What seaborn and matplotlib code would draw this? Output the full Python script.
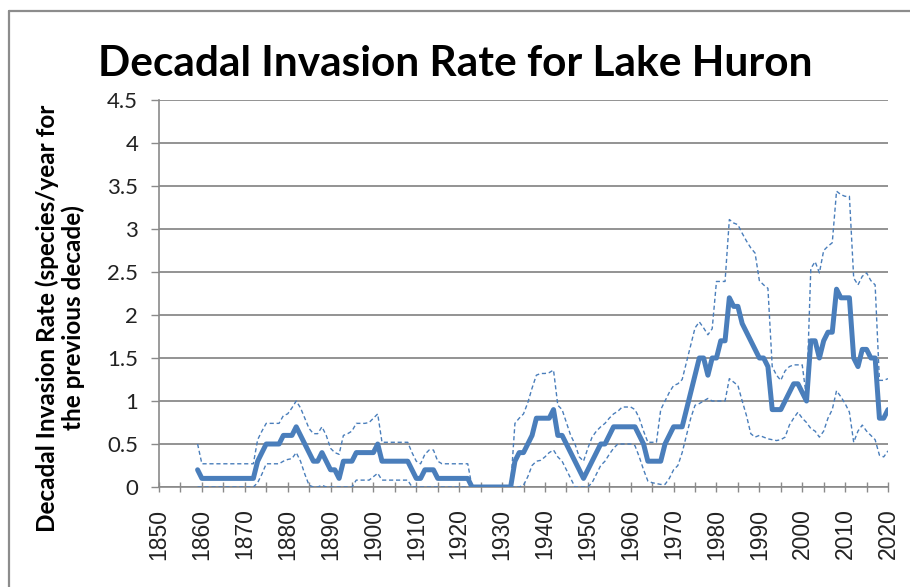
import numpy as np
import pandas as pd
import matplotlib
matplotlib.use("Agg")
import matplotlib.pyplot as plt
from matplotlib.lines import Line2D
import seaborn as sns

# Annual series, 1859-2020
years = list(range(1859, 2021))

rate = (
    [0.2] + [0.1] * 13 +                                   # 1859-1872
    [0.3, 0.4, 0.5, 0.5, 0.5, 0.5, 0.6, 0.6, 0.6, 0.7,     # 1873-1882
     0.6, 0.5, 0.4, 0.3, 0.3, 0.4, 0.3, 0.2, 0.2, 0.1,     # 1883-1892
     0.3, 0.3, 0.3, 0.4, 0.4, 0.4, 0.4, 0.4, 0.5] +        # 1893-1901
    [0.3] * 7 +                                            # 1902-1908
    [0.2, 0.1, 0.1, 0.2, 0.2, 0.2] +                       # 1909-1914
    [0.1] * 8 +                                            # 1915-1922
    [0.0] * 10 +                                           # 1923-1932
    [0.3, 0.4, 0.4, 0.5, 0.6, 0.8, 0.8, 0.8, 0.8, 0.9,     # 1933-1942
     0.6, 0.6, 0.5, 0.4, 0.3, 0.2, 0.1, 0.2, 0.3, 0.4,     # 1943-1952
     0.5, 0.5, 0.6, 0.7, 0.7, 0.7, 0.7, 0.7, 0.7, 0.6,     # 1953-1962
     0.5, 0.3, 0.3, 0.3, 0.3, 0.5, 0.6, 0.7, 0.7, 0.7,     # 1963-1972
     0.9, 1.1, 1.3, 1.5, 1.5, 1.3, 1.5, 1.5, 1.7, 1.7,     # 1973-1982
     2.2, 2.1, 2.1, 1.9, 1.8, 1.7, 1.6, 1.5, 1.5, 1.4,     # 1983-1992
     0.9, 0.9, 0.9, 1.0, 1.1, 1.2, 1.2, 1.1, 1.0, 1.7,     # 1993-2002
     1.7, 1.5, 1.7, 1.8, 1.8, 2.3, 2.2, 2.2, 2.2, 1.5,     # 2003-2012
     1.4, 1.6, 1.6, 1.5, 1.5, 0.8, 0.8, 0.9]               # 2013-2020
)

upper = (
    [0.5] + [0.27] * 13 +
    [0.55, 0.65, 0.74, 0.74, 0.74, 0.74, 0.83, 0.85, 0.92, 1.0,
     0.92, 0.8, 0.68, 0.62, 0.62, 0.7, 0.6, 0.45, 0.4, 0.38,
     0.6, 0.62, 0.65, 0.74, 0.74, 0.74, 0.75, 0.8, 0.85] +
    [0.52] * 7 +
    [0.4, 0.3, 0.27, 0.38, 0.43, 0.43] +
    [0.3] + [0.27] * 7 +
    [0.0] * 10 +
    [0.74, 0.8, 0.85, 0.98, 1.15, 1.3, 1.32, 1.32, 1.33, 1.36,
     0.95, 0.9, 0.75, 0.6, 0.5, 0.35, 0.3, 0.45, 0.58, 0.65,
     0.7, 0.74, 0.8, 0.85, 0.88, 0.93, 0.93, 0.93, 0.9, 0.8,
     0.65, 0.52, 0.52, 0.52, 0.9, 1.0, 1.1, 1.18, 1.2, 1.25,
     1.45, 1.65, 1.85, 1.92, 1.85, 1.77, 1.84, 2.39, 2.39, 2.39,
     3.11, 3.07, 3.05, 2.95, 2.86, 2.78, 2.72, 2.4, 2.35, 2.31,
     1.4, 1.3, 1.24, 1.35, 1.4, 1.42, 1.42, 1.42, 1.03, 2.54,
     2.62, 2.49, 2.75, 2.8, 2.84, 3.44, 3.4, 3.38, 3.38, 2.43,
     2.35, 2.45, 2.49, 2.4, 2.35, 1.24, 1.24, 1.26]
)

lower = (
    [0.0] * 14 +
    [0.05, 0.15, 0.27, 0.27, 0.27, 0.27, 0.3, 0.32, 0.33, 0.4,
     0.3, 0.15, 0.02, 0.0, 0.0, 0.02, 0.0, 0.0, 0.0, 0.0,
     0.0, 0.0, 0.0, 0.08, 0.08, 0.08, 0.08, 0.12, 0.16] +
    [0.08] * 7 +
    [0.0] * 6 +
    [0.0] * 8 +
    [0.0] * 10 +
    [0.0, 0.0, 0.02, 0.12, 0.25, 0.3, 0.31, 0.35, 0.4, 0.43,
     0.35, 0.3, 0.2, 0.1, 0.0, 0.0, 0.0, 0.0, 0.05, 0.15,
     0.25, 0.3, 0.38, 0.45, 0.5, 0.5, 0.5, 0.5, 0.48, 0.35,
     0.2, 0.07, 0.05, 0.04, 0.03, 0.03, 0.1, 0.2, 0.25, 0.4,
     0.6, 0.8, 0.95, 0.97, 1.0, 1.03, 1.0, 1.0, 1.0, 1.0,
     1.26, 1.22, 1.18, 1.0, 0.83, 0.62, 0.58, 0.6, 0.58, 0.56,
     0.55, 0.54, 0.55, 0.58, 0.72, 0.8, 0.87, 0.8, 0.75, 0.68,
     0.65, 0.58, 0.65, 0.8, 0.9, 1.12, 1.05, 0.97, 0.87, 0.52,
     0.65, 0.72, 0.65, 0.6, 0.55, 0.37, 0.35, 0.42]
)

y_ticks = [0, 0.5, 1, 1.5, 2, 2.5, 3, 3.5, 4, 4.5]
y_tick_labels = ["0", "0.5", "1", "1.5", "2", "2.5", "3", "3.5", "4", "4.5"]
x_ticks = list(range(1850, 2021, 5))
x_tick_labels = [str(y) if y % 10 == 0 else "" for y in x_ticks]

title = "Decadal Invasion Rate for Lake Huron"
y_label = "Decadal Invasion Rate (species/year for\nthe previous decade)"

df = pd.DataFrame({"year": years, "rate": rate, "upper": upper, "lower": lower})

sns.set_theme(style="white")
plt.rcParams["font.family"] = ["Lato", "DejaVu Sans"]

blue = "#4a7ebb"
grid_gray = "#8a8a8a"

fig = plt.figure(figsize=(9.1, 5.87), dpi=100)
fig.patch.set_facecolor("white")
ax = fig.add_axes([159 / 910, 1 - 487 / 587, (888 - 159) / 910, (487 - 100) / 587])

sns.lineplot(data=df, x="year", y="upper", ax=ax, color=blue, linewidth=1.0,
             linestyle=(0, (3, 2)), zorder=3)
sns.lineplot(data=df, x="year", y="lower", ax=ax, color=blue, linewidth=1.0,
             linestyle=(0, (3, 2)), zorder=3)
sns.lineplot(data=df, x="year", y="rate", ax=ax, color=blue, linewidth=3.6,
             zorder=4, solid_joinstyle="round")

ax.set_xlim(1850, 2020)
ax.set_ylim(0, 4.5)
ax.set_yticks(y_ticks)
ax.set_yticklabels(y_tick_labels)
ax.set_xticks(x_ticks)
ax.set_xticklabels(x_tick_labels, rotation=90, family=["Liberation Sans"])
ax.set_xlabel("")
ax.set_ylabel("")

ax.yaxis.grid(True, color=grid_gray, linewidth=1.3)
ax.xaxis.grid(False)
ax.set_axisbelow(True)

for side in ["top", "right"]:
    ax.spines[side].set_visible(False)
for side in ["left", "bottom"]:
    ax.spines[side].set_color(grid_gray)
    ax.spines[side].set_linewidth(1.2)

ax.tick_params(axis="y", which="major", direction="out", length=6, width=1.0,
               color=grid_gray, pad=9, labelsize=16, labelcolor="#222222", left=True)
ax.tick_params(axis="x", which="major", direction="inout", length=7, width=1.0,
               color=grid_gray, pad=12, labelsize=16.5, labelcolor="#222222", bottom=True)

fig.text(0.5, 1 - 76 / 587, title, ha="center", va="baseline",
         fontsize=30.5, fontweight="bold", color="black")
fig.text(60 / 910, 1 - 318 / 587, y_label, ha="center", va="center",
         rotation=90, fontsize=17.5, fontweight="bold", color="black",
         linespacing=1.15, multialignment="center")

# Outer frame
fig.add_artist(Line2D([9 / 910, 9 / 910], [0, 1 - 11 / 587], transform=fig.transFigure,
                      color="#8c8c8c", linewidth=1.6))
fig.add_artist(Line2D([9 / 910, 1], [1 - 11 / 587, 1 - 11 / 587], transform=fig.transFigure,
                      color="#8c8c8c", linewidth=1.6))

fig.savefig("out.png", dpi=100, facecolor="white")
